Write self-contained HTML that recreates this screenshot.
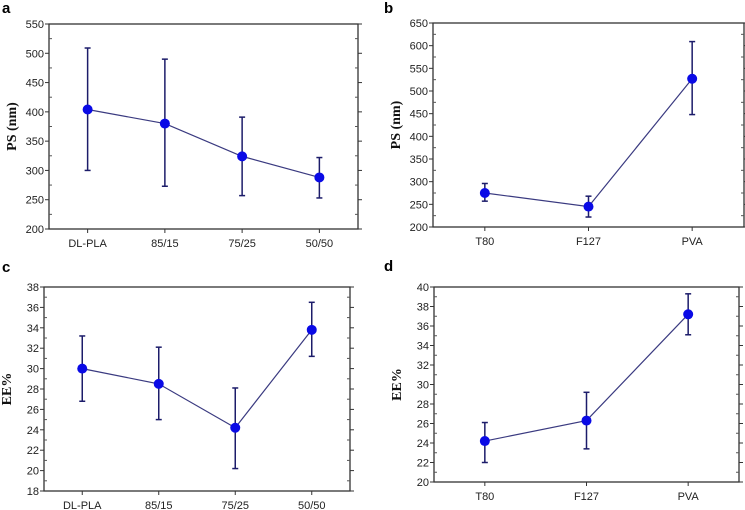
<!DOCTYPE html>
<html><head><meta charset="utf-8"><style>
html,body{margin:0;padding:0;background:#fff;}
svg{display:block;font-family:"Liberation Sans",sans-serif;}
.tk{font-size:11px;fill:#222;}
.yt{font-family:"Liberation Serif",serif;font-weight:bold;font-size:14px;fill:#111;}
.pl{font-family:"Liberation Sans",sans-serif;font-weight:bold;font-size:15px;fill:#000;}
</style></head><body>
<svg id="fig" width="745" height="510" viewBox="0 0 745 510"></svg>
<script>
const catsA=["DL-PLA","85/15","75/25","50/50"];
const valsA=[404,380,324,288];
const loA=[300,273,257,253];
const hiA=[509,490,391,322];
const ticksA=[200,250,300,350,400,450,500,550];

const catsB=["T80","F127","PVA"];
const valsB=[275,245,527];
const loB=[257,222,448];
const hiB=[296,268,609];
const ticksB=[200,250,300,350,400,450,500,550,600,650];

const catsC=["DL-PLA","85/15","75/25","50/50"];
const valsC=[30.0,28.5,24.2,33.8];
const loC=[26.8,25.0,20.2,31.2];
const hiC=[33.2,32.1,28.1,36.5];
const ticksC=[18,20,22,24,26,28,30,32,34,36,38];

const catsD=["T80","F127","PVA"];
const valsD=[24.2,26.3,37.2];
const loD=[22.0,23.4,35.1];
const hiD=[26.1,29.2,39.3];
const ticksD=[20,22,24,26,28,30,32,34,36,38,40];

const NS="http://www.w3.org/2000/svg";
const svg=document.getElementById('fig');
function mk(tag,attrs,parent,text){const e=document.createElementNS(NS,tag);for(const k in attrs)e.setAttribute(k,attrs[k]);if(text!==undefined)e.textContent=text;parent.appendChild(e);return e;}

function panel(id,letter,lx,ly,L,R,T,B,cats,vals,lo,hi,ticks,ytitle){
  const g=mk('g',{},svg);
  
  
  const ymin=ticks[0],ymax=ticks[ticks.length-1];
  const y=v=>B-(v-ymin)/(ymax-ymin)*(B-T);
  const x=i=>L+(i+0.5)*(R-L)/cats.length;
  const pl=mk('text',{x:lx,y:ly,class:'pl'},g,letter);
  
  
  const fr=mk('rect',{x:L,y:T,width:R-L,height:B-T,fill:'none',stroke:'#333','stroke-width':1.3},g);
  
  
  const step=ticks[1]-ticks[0];
  ticks.forEach((t,k)=>{
    const yy=y(t);
    mk('line',{x1:L-4,x2:L,y1:yy,y2:yy,stroke:'#333'},g);
    mk('line',{x1:R,x2:R+4,y1:yy,y2:yy,stroke:'#333'},g);
    const tl=mk('text',{x:L-5,y:yy+4,'text-anchor':'end',class:'tk'},g,String(t));
    
    
    if(k<ticks.length-1){const ym=y(t+step/2);
      mk('line',{x1:L,x2:L+3,y1:ym,y2:ym,stroke:'#555'},g);
      mk('line',{x1:R-3,x2:R,y1:ym,y2:ym,stroke:'#555'},g);}
  });
  cats.forEach((c,i)=>{
    mk('line',{x1:x(i),x2:x(i),y1:B,y2:B+4,stroke:'#333'},g);
    const xl=mk('text',{x:x(i),y:B+18,'text-anchor':'middle',class:'tk'},g,c);
    
    
  });
  const yt=mk('text',{x:0,y:0,'text-anchor':'middle',class:'yt',transform:`translate(${L-33},${(T+B)/2}) rotate(-90)`},g,ytitle);
  
  
  const line=mk('polyline',{points:vals.map((v,i)=>x(i)+','+y(v)).join(' '),fill:'none',stroke:'#3a3a80','stroke-width':1.2},g);
  
  
  vals.forEach((v,i)=>{
    const eb=mk('g',{stroke:'#1c1c6a','stroke-width':1.5},g);
    
    
    mk('line',{x1:x(i),x2:x(i),y1:y(lo[i]),y2:y(hi[i])},eb);
    mk('line',{x1:x(i)-3,x2:x(i)+3,y1:y(lo[i]),y2:y(lo[i])},eb);
    mk('line',{x1:x(i)-3,x2:x(i)+3,y1:y(hi[i]),y2:y(hi[i])},eb);
    const p=mk('circle',{cx:x(i),cy:y(v),r:5,fill:'#0a0ae6'},g);
    
    
  });
}
panel('a','a',2,13,49,358,24,229,catsA,valsA,loA,hiA,ticksA,'PS (nm)');
panel('b','b',384,13,433,744,23,227,catsB,valsB,loB,hiB,ticksB,'PS (nm)');
panel('c','c',2,272,44,350,287,491,catsC,valsC,loC,hiC,ticksC,'EE%');
panel('d','d',384,271,434,739,287,482,catsD,valsD,loD,hiD,ticksD,'EE%');
</script>
</body></html>
